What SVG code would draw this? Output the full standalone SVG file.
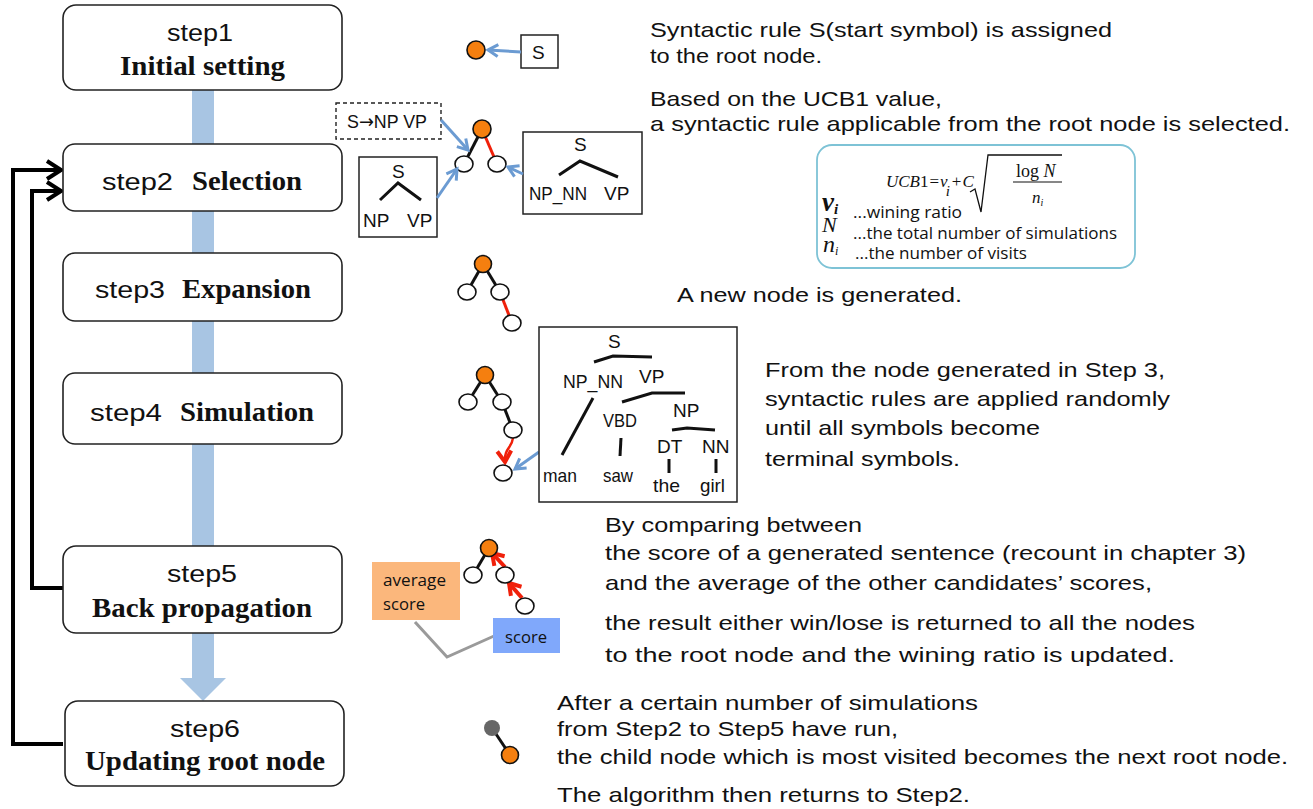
<svg xmlns="http://www.w3.org/2000/svg" width="1313" height="809" viewBox="0 0 1313 809">
<defs>
<style>
.box{fill:#fff;stroke:#222;stroke-width:1.6}
.st{font-family:"Liberation Sans","DejaVu Sans",sans-serif;font-size:24px;fill:#111}
.bd{font-family:"Liberation Serif","Times New Roman",serif;font-weight:bold;font-size:27px;fill:#111}
.tx{font-family:"Liberation Sans","Noto Sans",sans-serif;font-size:21px;fill:#111}
.sm{font-family:"Liberation Sans","Noto Sans",sans-serif;font-size:19px;fill:#111}
.uc{font-family:"Open Sans","Noto Sans",sans-serif;font-size:16px;fill:#111}
.mi{font-family:"Liberation Serif","Times New Roman",serif;font-style:italic;fill:#111}
.mr{font-family:"Liberation Serif","Times New Roman",serif;fill:#111}
.red{stroke:#f0200a;stroke-width:3;fill:none}
.tl{stroke:#111;stroke-width:3;fill:none;stroke-linecap:butt}
.wn{fill:#fff;stroke:#111;stroke-width:1.6}
.on{fill:#f57f0f;stroke:#111;stroke-width:1.6}
.ba{stroke:#6b9bd2;stroke-width:3;fill:none;marker-end:url(#bh)}
.fb{stroke:#000;stroke-width:4;fill:none;marker-end:url(#kh)}
</style>
<marker id="bh" markerUnits="userSpaceOnUse" markerWidth="16" markerHeight="16" refX="12" refY="8" orient="auto" viewBox="0 0 16 16">
<path d="M2,2 L12,8 L2,14" fill="none" stroke="#6b9bd2" stroke-width="3"/>
</marker>
<marker id="kh" markerUnits="userSpaceOnUse" markerWidth="20" markerHeight="24" refX="17" refY="12" orient="auto" viewBox="0 0 20 24">
<path d="M3,3 L17,12 L3,21" fill="none" stroke="#000" stroke-width="4"/>
</marker>
<marker id="rh" markerUnits="userSpaceOnUse" markerWidth="18" markerHeight="18" refX="13" refY="9" orient="auto" viewBox="0 0 18 18">
<path d="M2,2 L13,9 L2,16" fill="none" stroke="#f0200a" stroke-width="4"/>
</marker>
</defs>
<rect width="1313" height="809" fill="#fff"/>

<!-- main flow bar -->
<g id="flow">
<rect x="192" y="88" width="22" height="591" fill="#a8c5e3"/>
<polygon points="180,678 226,678 203,701" fill="#a8c5e3"/>
</g>

<!-- feedback connectors -->
<g id="connectors">
<path class="fb" d="M63,744 H13 V170 H61"/>
<path class="fb" d="M63,588 H32 V191 H61"/>
</g>

<g id="step1">
<rect class="box" x="63" y="5" width="279" height="85" rx="13"/>
<text class="st" x="167" y="41" textLength="66" lengthAdjust="spacingAndGlyphs">step1</text>
<text class="bd" x="120" y="75" textLength="165" lengthAdjust="spacingAndGlyphs">Initial setting</text>
</g>
<g id="step2">
<rect class="box" x="63" y="144" width="279" height="67" rx="12"/>
<text class="st" x="102" y="190" textLength="71" lengthAdjust="spacingAndGlyphs">step2</text>
<text class="bd" x="192" y="190" textLength="110" lengthAdjust="spacingAndGlyphs">Selection</text>
</g>
<g id="step3">
<rect class="box" x="63" y="253" width="279" height="68" rx="12"/>
<text class="st" x="95" y="298" textLength="70" lengthAdjust="spacingAndGlyphs">step3</text>
<text class="bd" x="182" y="298" textLength="129" lengthAdjust="spacingAndGlyphs">Expansion</text>
</g>
<g id="step4">
<rect class="box" x="63" y="373" width="279" height="71" rx="12"/>
<text class="st" x="90" y="421" textLength="72" lengthAdjust="spacingAndGlyphs">step4</text>
<text class="bd" x="180" y="421" textLength="134" lengthAdjust="spacingAndGlyphs">Simulation</text>
</g>
<g id="step5">
<rect class="box" x="63" y="546" width="279" height="87" rx="13"/>
<text class="st" x="167" y="582" textLength="70" lengthAdjust="spacingAndGlyphs">step5</text>
<text class="bd" x="92" y="617" textLength="220" lengthAdjust="spacingAndGlyphs">Back propagation</text>
</g>
<g id="step6">
<rect class="box" x="65" y="701" width="279" height="85" rx="13"/>
<text class="st" x="170" y="737" textLength="70" lengthAdjust="spacingAndGlyphs">step6</text>
<text class="bd" x="85" y="770" textLength="240" lengthAdjust="spacingAndGlyphs">Updating root node</text>
</g>

<!-- step1 illustration -->
<g id="ill1">
<rect x="521" y="35" width="37" height="33" fill="#fff" stroke="#222" stroke-width="1.5"/>
<text class="sm" x="532" y="59">S</text>
<path class="ba" d="M521,52 L488,50"/>
<circle class="on" cx="476" cy="50" r="9"/>
</g>
<text class="tx" x="650" y="37" textLength="462" lengthAdjust="spacingAndGlyphs">Syntactic rule S(start symbol) is assigned</text>
<text class="tx" x="650" y="63" textLength="172" lengthAdjust="spacingAndGlyphs">to the root node.</text>

<!-- step2 illustration -->
<g id="ill2">
<rect x="336" y="103" width="105" height="36" fill="#fff" stroke="#222" stroke-width="1.4" stroke-dasharray="4,3"/>
<text class="sm" x="347" y="128" font-size="17" textLength="80" lengthAdjust="spacingAndGlyphs">S<tspan font-family="DejaVu Sans">→</tspan>NP VP</text>
<line class="tl" x1="482" y1="129" x2="464" y2="164"/>
<line class="red" x1="482" y1="129" x2="497" y2="164"/>
<circle class="on" cx="482" cy="129" r="9"/>
<ellipse class="wn" cx="464" cy="164" rx="9" ry="8"/>
<ellipse class="wn" cx="497" cy="164" rx="9" ry="8"/>
<path class="ba" d="M441,120 L468,150"/>
<rect x="359" y="157" width="78" height="80" fill="#fff" stroke="#222" stroke-width="1.5"/>
<text class="sm" x="392" y="178" font-size="20">S</text>
<path class="tl" d="M380,200 L398,183 L421,200"/>
<text class="sm" x="363" y="227" font-size="20">NP</text>
<text class="sm" x="407" y="227" font-size="20">VP</text>
<path class="ba" d="M437,198 L457,169"/>
<rect x="523" y="132" width="119" height="82" fill="#fff" stroke="#222" stroke-width="1.5"/>
<text class="sm" x="574" y="151" font-size="20">S</text>
<path class="tl" d="M559,175 L580,161 L618,177"/>
<text class="sm" x="529" y="200" textLength="58" lengthAdjust="spacingAndGlyphs">NP_NN</text>
<text class="sm" x="604" y="200" font-size="20">VP</text>
<path class="ba" d="M523,174 L508,167"/>
</g>
<text class="tx" x="650" y="106" textLength="292" lengthAdjust="spacingAndGlyphs">Based on the UCB1 value,</text>
<text class="tx" x="650" y="131" textLength="640" lengthAdjust="spacingAndGlyphs">a syntactic rule applicable from the root node is selected.</text>

<!-- UCB1 formula box -->
<g id="ucb">
<rect x="817" y="145" width="318" height="123" rx="15" fill="#fff" stroke="#7ec3d6" stroke-width="1.8"/>
<text class="mr" x="886" y="187" font-size="17"><tspan font-style="italic">UCB</tspan>1<tspan dx="1">=</tspan><tspan dx="1" font-style="italic">v</tspan><tspan font-style="italic" font-size="15" dx="-2" dy="9">i</tspan><tspan dx="2" dy="-9">+</tspan><tspan dx="1" font-style="italic">C</tspan></text>
<path d="M970,192 L975,189 L981,212 L988,155 L1062,155" fill="none" stroke="#111" stroke-width="1.3"/>
<line x1="1013" y1="182" x2="1062" y2="182" stroke="#111" stroke-width="1.1"/>
<text class="mr" x="1016" y="177" font-size="18">log <tspan font-style="italic">N</tspan></text>
<text class="mi" x="1032" y="203" font-size="17">n<tspan font-size="10" dy="3">i</tspan></text>
<text class="mi" x="822" y="211" font-size="27" font-weight="bold">v<tspan font-size="15" dy="3">i</tspan></text>
<text class="uc" x="853" y="218" textLength="109" lengthAdjust="spacingAndGlyphs">...wining ratio</text>
<text class="mi" x="822" y="232" font-size="22">N</text>
<text class="uc" x="853" y="239" textLength="264" lengthAdjust="spacingAndGlyphs">...the total number of simulations</text>
<text class="mi" x="823" y="252" font-size="24">n<tspan font-size="12" dy="3">i</tspan></text>
<text class="uc" x="855" y="259" textLength="172" lengthAdjust="spacingAndGlyphs">...the number of visits</text>
</g>

<!-- step3 illustration -->
<g id="ill3">
<line class="tl" x1="483" y1="264" x2="467" y2="292"/>
<line class="tl" x1="483" y1="264" x2="500" y2="292"/>
<line class="red" x1="500" y1="292" x2="512" y2="323"/>
<circle class="on" cx="483" cy="264" r="8.5"/>
<ellipse class="wn" cx="467" cy="292" rx="9" ry="8"/>
<ellipse class="wn" cx="500" cy="292" rx="9" ry="8"/>
<ellipse class="wn" cx="512" cy="323" rx="9" ry="8"/>
</g>
<text class="tx" x="677" y="302" textLength="285" lengthAdjust="spacingAndGlyphs">A new node is generated.</text>

<!-- step4 illustration -->
<g id="ill4">
<line class="tl" x1="485" y1="375" x2="468" y2="402"/>
<line class="tl" x1="485" y1="375" x2="502" y2="402"/>
<line class="tl" x1="502" y1="402" x2="513" y2="430"/>
<path d="M513,438 C512,448 504,448 505,462" fill="none" stroke="#f0200a" stroke-width="2.5" marker-end="url(#rh)"/>
<circle class="on" cx="485" cy="375" r="8.5"/>
<ellipse class="wn" cx="468" cy="402" rx="9" ry="8"/>
<ellipse class="wn" cx="502" cy="402" rx="9" ry="8"/>
<ellipse class="wn" cx="513" cy="430" rx="9" ry="8"/>
<ellipse class="wn" cx="503" cy="473" rx="9" ry="8"/>
<path class="ba" d="M539,452 L515,469"/>
<rect x="539" y="327" width="198" height="175" fill="#fff" stroke="#222" stroke-width="1.5"/>
<text class="sm" x="608" y="348" font-size="18">S</text>
<path class="tl" d="M594,362 L613,356 L652,357"/>
<text class="sm" x="563" y="388" textLength="60" lengthAdjust="spacingAndGlyphs">NP_NN</text>
<text class="sm" x="639" y="383">VP</text>
<line class="tl" x1="593" y1="398" x2="562" y2="455"/>
<path class="tl" d="M622,402 L652,393 L685,393"/>
<text class="sm" x="603" y="427" font-size="16" textLength="34" lengthAdjust="spacingAndGlyphs">VBD</text>
<line class="tl" x1="621" y1="438" x2="620" y2="456"/>
<text class="sm" x="673" y="417" font-size="17">NP</text>
<path class="tl" d="M672,430 L687,428 L715,430"/>
<text class="sm" x="657" y="453" font-size="17">DT</text>
<text class="sm" x="702" y="453" font-size="17">NN</text>
<line class="tl" x1="669" y1="459" x2="669" y2="473"/>
<line class="tl" x1="716" y1="459" x2="716" y2="473"/>
<text class="sm" x="543" y="482" font-size="16" textLength="34" lengthAdjust="spacingAndGlyphs">man</text>
<text class="sm" x="603" y="482" font-size="16" textLength="30" lengthAdjust="spacingAndGlyphs">saw</text>
<text class="sm" x="653" y="492" font-size="16" textLength="27" lengthAdjust="spacingAndGlyphs">the</text>
<text class="sm" x="700" y="492" font-size="16" textLength="25" lengthAdjust="spacingAndGlyphs">girl</text>
</g>
<text class="tx" x="765" y="377" textLength="400" lengthAdjust="spacingAndGlyphs">From the node generated in Step 3,</text>
<text class="tx" x="765" y="406" textLength="405" lengthAdjust="spacingAndGlyphs">syntactic rules are applied randomly</text>
<text class="tx" x="765" y="435" textLength="275" lengthAdjust="spacingAndGlyphs">until all symbols become</text>
<text class="tx" x="765" y="466" textLength="195" lengthAdjust="spacingAndGlyphs">terminal symbols.</text>

<!-- step5 illustration -->
<g id="ill5">
<line class="tl" x1="489" y1="548" x2="473" y2="575"/>
<path d="M505,567 L492,553" fill="none" stroke="#f0200a" stroke-width="4" marker-end="url(#rh)"/>
<path d="M522,598 L509,583" fill="none" stroke="#f0200a" stroke-width="4" marker-end="url(#rh)"/>
<circle class="on" cx="489" cy="548" r="8.5"/>
<ellipse class="wn" cx="473" cy="575" rx="9" ry="8"/>
<ellipse class="wn" cx="505" cy="575" rx="9" ry="8"/>
<ellipse class="wn" cx="525" cy="606" rx="9" ry="8"/>
<path d="M415,622 L447,657 L494,636" fill="none" stroke="#9a9a9a" stroke-width="3"/>
<rect x="372" y="562" width="88" height="58" fill="#fbb77c"/>
<text class="uc" x="383" y="586" font-size="17" textLength="63" lengthAdjust="spacingAndGlyphs">average</text>
<text class="uc" x="383" y="610" font-size="17" textLength="42" lengthAdjust="spacingAndGlyphs">score</text>
<rect x="493" y="618" width="67" height="35" fill="#80a8fb"/>
<text class="uc" x="505" y="643" font-size="17" textLength="42" lengthAdjust="spacingAndGlyphs">score</text>
</g>
<text class="tx" x="605" y="532" textLength="257" lengthAdjust="spacingAndGlyphs">By comparing between</text>
<text class="tx" x="605" y="560" textLength="641" lengthAdjust="spacingAndGlyphs">the score of a generated sentence (recount in chapter 3)</text>
<text class="tx" x="605" y="590" textLength="547" lengthAdjust="spacingAndGlyphs">and the average of the other candidates’ scores,</text>
<text class="tx" x="605" y="630" textLength="590" lengthAdjust="spacingAndGlyphs">the result either win/lose is returned to all the nodes</text>
<text class="tx" x="605" y="662" textLength="570" lengthAdjust="spacingAndGlyphs">to the root node and the wining ratio is updated.</text>

<!-- step6 illustration -->
<g id="ill6">
<line class="tl" x1="492" y1="728" x2="510" y2="755"/>
<circle cx="492" cy="728" r="8" fill="#666"/>
<circle class="on" cx="510" cy="755" r="8.5"/>
</g>
<text class="tx" x="557" y="710" textLength="421" lengthAdjust="spacingAndGlyphs">After a certain number of simulations</text>
<text class="tx" x="557" y="736" textLength="341" lengthAdjust="spacingAndGlyphs">from Step2 to Step5 have run,</text>
<text class="tx" x="557" y="764" textLength="731" lengthAdjust="spacingAndGlyphs">the child node which is most visited becomes the next root node.</text>
<text class="tx" x="557" y="802" textLength="413" lengthAdjust="spacingAndGlyphs">The algorithm then returns to Step2.</text>
</svg>
